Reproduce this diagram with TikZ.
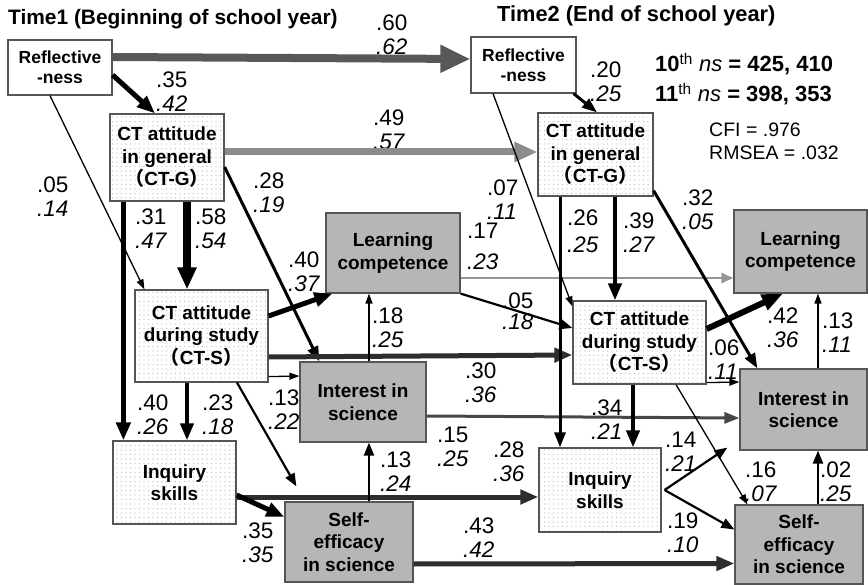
\documentclass[tikz,border=0pt]{standalone}
\usepackage{fontspec}
\setmainfont{Liberation Sans}
\newfontfamily\cjkp{Noto Sans CJK JP}
\usetikzlibrary{arrows.meta,patterns}
\definecolor{boxgray}{RGB}{182,182,182}
\definecolor{edgegray}{RGB}{85,85,85}
\definecolor{refarrow}{RGB}{88,88,88}
\definecolor{ctgarrow}{RGB}{140,140,140}
\definecolor{lcarrow}{RGB}{150,150,150}
\definecolor{darkarrow}{RGB}{45,45,45}
\definecolor{darkarrowb}{RGB}{70,70,70}
\pgfdeclarepatternformonly{sparsedots}{\pgfqpoint{-1pt}{-1pt}}{\pgfqpoint{1pt}{1pt}}{\pgfqpoint{4.5pt}{4.5pt}}{\pgfpathcircle{\pgfpointorigin}{0.55pt}\pgfusepath{fill}}
\newcommand{\twoval}[2]{#1\\\textit{#2}}
\newcommand{\ctp}[1]{{\cjkp （}#1{\cjkp ）}}
\begin{document}
\begin{tikzpicture}[x=1pt,y=-1pt,
  box/.style={draw=edgegray, line width=1.2pt, inner sep=0pt, align=center, text=black,
    font=\fontsize{19}{22.5}\selectfont\bfseries},
  whitebox/.style={box, fill=white, font=\fontsize{17.5}{20}\selectfont\bfseries},
  dotbox/.style={box, preaction={fill=white}, pattern=sparsedots, pattern color=gray!55},
  graybox/.style={box, fill=boxgray},
  lab/.style={anchor=north west, inner sep=0pt, align=left, font=\fontsize{22.5}{23.5}\selectfont},
  e1/.style={line width=1.3pt, -{Triangle[length=10pt,width=7pt]}},
  e2/.style={line width=2.2pt, -{Triangle[length=13pt,width=10pt]}},
  e3/.style={line width=3pt, -{Triangle[length=15pt,width=11pt]}},
  e4/.style={line width=4pt, -{Triangle[length=17pt,width=13pt]}},
  e5/.style={line width=5pt, -{Triangle[length=18pt,width=14pt]}},
  e6/.style={line width=6pt, -{Triangle[length=21pt,width=16pt]}},
  e8/.style={line width=8pt, -{Triangle[length=22pt,width=18pt]}},
  refA/.style={line width=8pt, draw=refarrow, -{Triangle[length=30pt,width=26pt]}},
  ctgA/.style={line width=7pt, draw=ctgarrow, -{Triangle[length=23pt,width=19pt]}},
  lcA/.style={line width=2.5pt, draw=lcarrow, -{Triangle[length=12pt,width=10pt]}}
]
\useasboundingbox (0,0) rectangle (868,585);

% headings and statistics
\node[anchor=base west, inner sep=0pt, font=\fontsize{20.9}{24}\selectfont\bfseries] (t1) at (8,25) {Time1 (Beginning of school year)};
\node[anchor=base west, inner sep=0pt, font=\fontsize{21.8}{24}\selectfont\bfseries] (t2) at (497,22) {Time2 (End of school year)};
\node[anchor=base west, inner sep=0pt, font=\fontsize{22}{24}\selectfont\bfseries] (n10) at (655,72) {10\textsuperscript{\mdseries th} {\mdseries\itshape ns} = 425, 410};
\node[anchor=base west, inner sep=0pt, font=\fontsize{22}{24}\selectfont\bfseries] (n11) at (655,102) {11\textsuperscript{\mdseries th} {\mdseries\itshape ns} = 398, 353};
\node[anchor=base west, inner sep=0pt, font=\fontsize{19.5}{22}\selectfont] (cfi) at (709,137) {CFI = .976};
\node[anchor=base west, inner sep=0pt, font=\fontsize{19.5}{22}\selectfont] (rmsea) at (709,160) {RMSEA = .032};

% boxes, Time1
\node[whitebox, minimum width=104pt, minimum height=55pt] (ref1) at (60,67.5) {Reflective\\-ness};
\node[dotbox, minimum width=114pt, minimum height=87pt] (ctg1) at (167,157.5) {CT attitude\\in general\\\ctp{CT-G}};
\node[dotbox, minimum width=133pt, minimum height=92pt] (cts1) at (201.5,336) {CT attitude\\during study\\\ctp{CT-S}};
\node[graybox, minimum width=134pt, minimum height=80pt] (lc1) at (393,253) {Learning\\competence};
\node[graybox, minimum width=126pt, minimum height=80pt] (int1) at (363,402) {Interest in\\science};
\node[dotbox, minimum width=123pt, minimum height=83pt] (inq1) at (174.5,482.5) {Inquiry\\skills};
\node[graybox, minimum width=128pt, minimum height=80pt] (se1) at (349,542) {Self-\\efficacy\\in science};
% boxes, Time2
\node[whitebox, minimum width=105pt, minimum height=56pt] (ref2) at (523.5,65) {Reflective\\-ness};
\node[dotbox, minimum width=115pt, minimum height=83pt] (ctg2) at (595.5,154.5) {CT attitude\\in general\\\ctp{CT-G}};
\node[dotbox, minimum width=133pt, minimum height=83pt] (cts2) at (639.5,342.5) {CT attitude\\during study\\\ctp{CT-S}};
\node[graybox, minimum width=133pt, minimum height=83pt] (lc2) at (800.5,251.5) {Learning\\competence};
\node[graybox, minimum width=127pt, minimum height=81pt] (int2) at (803.5,409.5) {Interest in\\science};
\node[dotbox, minimum width=122pt, minimum height=84pt] (inq2) at (600,490) {Inquiry\\skills};
\node[graybox, minimum width=128pt, minimum height=79pt] (se2) at (799,544.5) {Self-\\efficacy\\in science};

% coefficient labels
\node[lab] (v1) at (376,15) {\twoval{.60}{.62}};
\node[lab] (v2) at (156,72) {\twoval{.35}{.42}};
\node[lab] (v3) at (373,110) {\twoval{.49}{.57}};
\node[lab] (v4) at (37,177) {\twoval{.05}{.14}};
\node[lab] (v5) at (253,173) {\twoval{.28}{.19}};
\node[lab] (v6) at (135,209) {\twoval{.31}{.47}};
\node[lab] (v7) at (195,209) {\twoval{.58}{.54}};
\node[lab] (v8) at (288,252) {\twoval{.40}{.37}};
\node[lab] (v9) at (372,308) {\twoval{.18}{.25}};
\node[lab] (v10) at (268,390) {\twoval{.13}{.22}};
\node[lab] (v11) at (137,395) {\twoval{.40}{.26}};
\node[lab] (v12) at (202,395) {\twoval{.23}{.18}};
\node[lab] (v13) at (380,452) {\twoval{.13}{.24}};
\node[lab] (v14) at (242,523) {\twoval{.35}{.35}};
\node[lab] (v15) at (590,62) {\twoval{.20}{.25}};
\node[lab] (v16) at (487,180) {\twoval{.07}{.11}};
\node[lab] (v17) at (467,223) {.17\\[7pt]\textit{.23}};
\node[lab] (v18) at (682,190) {\twoval{.32}{.05}};
\node[lab] (v19) at (567,210) {.26\\[3pt]\textit{.25}};
\node[lab] (v20) at (623,213) {\twoval{.39}{.27}};
\node[lab] (v21) at (502,293) {.05\\[-3pt]\textit{.18}};
\node[lab] (v22) at (465,363) {\twoval{.30}{.36}};
\node[lab] (v23) at (767,308) {\twoval{.42}{.36}};
\node[lab] (v24) at (822,313) {\twoval{.13}{.11}};
\node[lab] (v25) at (708,340) {\twoval{.06}{.11}};
\node[lab] (v26) at (591,400) {\twoval{.34}{.21}};
\node[lab] (v27) at (437,427) {\twoval{.15}{.25}};
\node[lab] (v28) at (493,442) {\twoval{.28}{.36}};
\node[lab] (v29) at (665,432) {\twoval{.14}{.21}};
\node[lab] (v30) at (745,462) {\twoval{.16}{.07}};
\node[lab] (v31) at (820,462) {\twoval{.02}{.25}};
\node[lab] (v32) at (667,513) {\twoval{.19}{.10}};
\node[lab] (v33) at (463,518) {\twoval{.43}{.42}};

% connectors
\draw[refA] ([yshift=10.5pt]ref1.east) -- ([yshift=6pt]ref2.west);
\draw[ctgA] ([yshift=5.5pt]ctg1.east) -- ([yshift=2.5pt]ctg2.west);
\draw[lcA] ([yshift=-25pt]lc1.east) -- ([yshift=-26.5pt]lc2.west);
\draw[e5] ([yshift=-7.5pt]ref1.east) -- ([xshift=-12pt]ctg1.north);
\draw[e1] ([xshift=-10pt]ref1.south) -- ([xshift=10pt]cts1.north west);
\draw[e3] ([xshift=-3pt]ref2.south east) -- ([xshift=1.5pt]ctg2.north);
\draw[e1] ([xshift=-30.5pt]ref2.south) -- ([yshift=-6pt]cts2.north west);
\draw[e5] ([xshift=14pt]ctg1.south west) -- ([xshift=11pt]inq1.north west);
\draw[e8] ([xshift=20pt]ctg1.south) -- ([xshift=-14.5pt]cts1.north);
\draw[e3] ([yshift=-9.5pt]ctg1.east) -- ([xshift=20pt]int1.north west);
\draw[e5] ([yshift=20pt]cts1.east) -- ([xshift=7pt]lc1.south west);
\draw[e5, draw=darkarrow] ([yshift=-21pt]cts1.east) -- ([yshift=-12.5pt]cts2.west);
\draw[e1] ([yshift=6pt]cts1.south east) -- ([yshift=26pt]int1.west);
\draw[e4] ([xshift=-14.5pt]cts1.south) -- ([xshift=12.5pt]inq1.north);
\draw[e2] ([xshift=35.5pt]cts1.south) -- ([xshift=12pt,yshift=15pt]se1.north west);
\draw[e2] (lc1.south east) -- ([yshift=14.5pt]cts2.west);
\draw[e1] ([xshift=6pt]int1.north) -- ([xshift=-24pt]lc1.south);
\draw[e3, draw=darkarrowb] ([yshift=-14pt]int1.east) -- ([yshift=-8.5pt]int2.west);
\draw[e3] ([yshift=6pt]ctg2.south east) -- ([xshift=18pt]int2.north west);
\draw[e3] ([xshift=-35.5pt]ctg2.south) -- ([xshift=-40pt]inq2.north);
\draw[e4] ([xshift=19.5pt]ctg2.south) -- ([xshift=-24.5pt]cts2.north);
\draw[e6] ([yshift=13.5pt]cts2.east) -- ([xshift=-17.5pt]lc2.south);
\draw[e1] ([xshift=14.5pt]int2.north) -- ([xshift=17.5pt]lc2.south);
\draw[e4] ([xshift=-6.5pt]cts2.south) -- ([xshift=33pt]inq2.north);
\draw[e1] ([xshift=36.5pt]cts2.south) -- ([xshift=13pt]se2.north west);
\draw[e1] ([yshift=2pt]cts2.south east) -- ([yshift=27.5pt]int2.west);
\draw[e5, draw=darkarrow] ([yshift=-14.5pt]inq1.east) -- ([yshift=-7pt]inq2.west);
\draw[e5] ([yshift=-12.5pt]inq1.east) -- ([yshift=25pt]se1.west);
\draw[e2] ([xshift=20pt]se1.north) -- ([xshift=6pt]int1.south);
\draw[e5, draw=darkarrow] ([yshift=-22pt]se1.east) -- ([yshift=-19pt]se2.west);
\coordinate (int2tip) at ([xshift=-12pt,yshift=3pt]int2.south west);
\draw[e2] ([xshift=3pt]inq2.east) -- (int2tip);
\draw[e2] ([xshift=3pt]inq2.east) -- ([yshift=15pt]se2.west);
\draw[e2] ([xshift=19pt]se2.north) -- ([xshift=14.5pt]int2.south);
\end{tikzpicture}
\end{document}
